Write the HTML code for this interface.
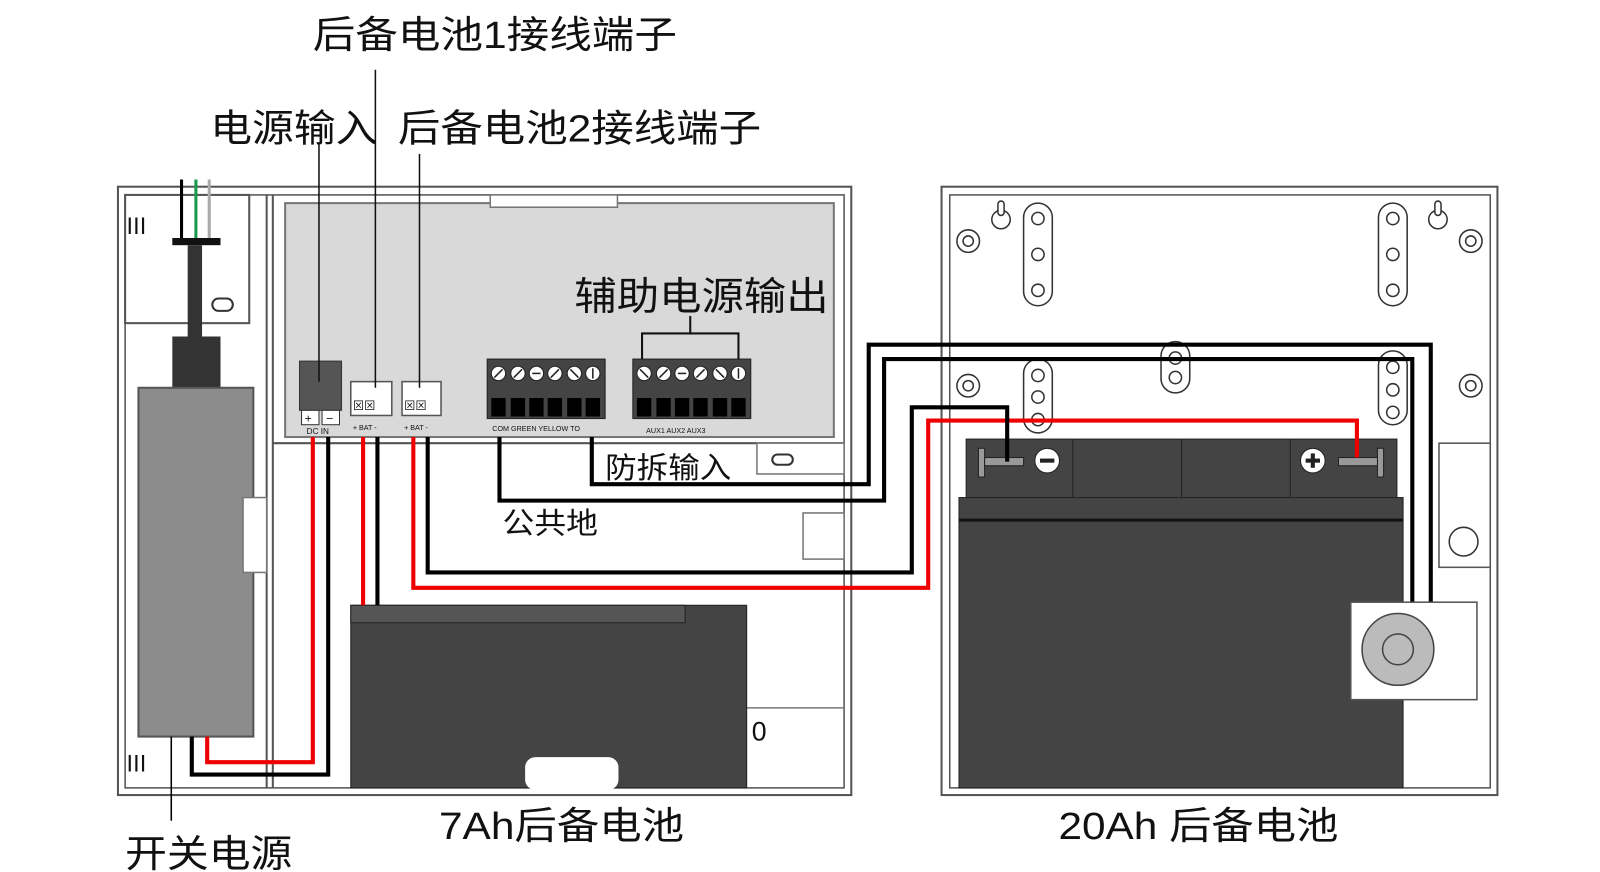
<!DOCTYPE html>
<html><head><meta charset="utf-8"><style>
html,body{margin:0;padding:0;background:#fff;width:1600px;height:872px;overflow:hidden}
svg{display:block}
text{font-family:"Liberation Sans","Noto Sans CJK SC",sans-serif;fill:#111}
</style></head><body>
<svg width="1600" height="872" viewBox="0 0 1560 850" preserveAspectRatio="none" xmlns="http://www.w3.org/2000/svg">
<g fill="none" stroke="#555" stroke-width="2">
<rect x="115" y="182" width="715" height="593"/>
<rect x="122" y="190" width="701" height="578" stroke-width="1.5"/>
<line x1="260" y1="190" x2="260" y2="768"/><line x1="266" y1="190" x2="266" y2="768"/>
<line x1="266" y1="432" x2="823" y2="432"/>
<rect x="122" y="190" width="121" height="125"/>
</g>
<rect x="278" y="198" width="535" height="228" fill="#d9d9d9" stroke="#777" stroke-width="2"/>
<rect x="478" y="190" width="124" height="12" fill="#fff" stroke="#777" stroke-width="1.5"/>
<text x="122" y="228" font-size="22" fill="#666">Ⅲ</text>
<text x="122" y="752" font-size="22" fill="#666">Ⅲ</text>
<rect x="207" y="291" width="20" height="12" rx="6" fill="#fff" stroke="#333" stroke-width="2"/>
<line x1="177" y1="175" x2="177" y2="232" stroke="#000" stroke-width="3"/>
<line x1="191" y1="175" x2="191" y2="232" stroke="#1a9a4a" stroke-width="3"/>
<line x1="204" y1="175" x2="204" y2="232" stroke="#aaa" stroke-width="3"/>
<rect x="168" y="232" width="47" height="7" fill="#111"/>
<rect x="183" y="239" width="14" height="90" fill="#333"/>
<rect x="168" y="328" width="47" height="50" fill="#333"/>
<rect x="135" y="378" width="112" height="340" fill="#8c8c8c" stroke="#555" stroke-width="2"/>
<rect x="237" y="485" width="23" height="73" fill="#fff" stroke="#777" stroke-width="1.5"/>
<polyline points="305,426 305,743 202,743 202,718" fill="none" stroke="#e00" stroke-width="4"/>
<polyline points="320,426 320,755 187,755 187,718" fill="none" stroke="#000" stroke-width="4"/>
<line x1="167" y1="718" x2="167" y2="800" stroke="#000" stroke-width="1.5"/>
<rect x="292" y="352" width="41" height="48" fill="#555" stroke="#333"/>
<rect x="294" y="400" width="17" height="14" fill="#fff" stroke="#333"/><rect x="314" y="400" width="17" height="14" fill="#fff" stroke="#333"/>
<text x="297" y="412" font-size="12">+</text><text x="318" y="412" font-size="12">−</text>
<text x="299" y="423" font-size="8">DC IN</text>
<rect x="342" y="372" width="40" height="33" fill="#fff" stroke="#555" stroke-width="1.5"/>
<rect x="392" y="372" width="38" height="33" fill="#fff" stroke="#555" stroke-width="1.5"/>
<text x="344" y="399" font-size="11">⊠⊠</text><text x="394" y="399" font-size="11">⊠⊠</text>
<text x="344" y="419" font-size="7">+ BAT -</text><text x="394" y="419" font-size="7">+ BAT -</text>
<g>
<rect x="475" y="350" width="115" height="58" fill="#444" stroke="#222"/>
<rect x="617" y="350" width="115" height="58" fill="#444" stroke="#222"/>
<g fill="#fff" stroke="#222">
<circle cx="486" cy="364" r="7"/><circle cx="505" cy="364" r="7"/><circle cx="523" cy="364" r="7"/><circle cx="541" cy="364" r="7"/><circle cx="560" cy="364" r="7"/><circle cx="578" cy="364" r="7"/>
<circle cx="628" cy="364" r="7"/><circle cx="647" cy="364" r="7"/><circle cx="665" cy="364" r="7"/><circle cx="683" cy="364" r="7"/><circle cx="702" cy="364" r="7"/><circle cx="720" cy="364" r="7"/>
</g>
<g stroke="#222" stroke-width="1.5">
<line x1="482" y1="368" x2="490" y2="360"/><line x1="501" y1="368" x2="509" y2="360"/><line x1="519" y1="364" x2="527" y2="364"/><line x1="537" y1="368" x2="545" y2="360"/><line x1="556" y1="360" x2="564" y2="368"/><line x1="578" y1="359" x2="578" y2="369"/>
<line x1="624" y1="360" x2="632" y2="368"/><line x1="643" y1="368" x2="651" y2="360"/><line x1="661" y1="364" x2="669" y2="364"/><line x1="679" y1="368" x2="687" y2="360"/><line x1="698" y1="360" x2="706" y2="368"/><line x1="720" y1="359" x2="720" y2="369"/>
</g>
<g fill="#000">
<rect x="479" y="388" width="14" height="18"/><rect x="498" y="388" width="14" height="18"/><rect x="516" y="388" width="14" height="18"/><rect x="534" y="388" width="14" height="18"/><rect x="553" y="388" width="14" height="18"/><rect x="571" y="388" width="14" height="18"/>
<rect x="621" y="388" width="14" height="18"/><rect x="640" y="388" width="14" height="18"/><rect x="658" y="388" width="14" height="18"/><rect x="676" y="388" width="14" height="18"/><rect x="695" y="388" width="14" height="18"/><rect x="713" y="388" width="14" height="18"/>
</g>
<text x="480" y="420" font-size="7">COM  GREEN  YELLOW  TO</text>
<text x="630" y="422" font-size="7">AUX1   AUX2   AUX3</text>
</g>
<polyline points="626,350 626,325 720,325 720,350" fill="none" stroke="#111" stroke-width="2"/>
<line x1="673" y1="308" x2="673" y2="325" stroke="#111" stroke-width="2"/>
<line x1="311" y1="140" x2="311" y2="372" stroke="#111" stroke-width="1.5"/>
<line x1="366" y1="68" x2="366" y2="378" stroke="#111" stroke-width="1.5"/>
<line x1="409" y1="150" x2="409" y2="378" stroke="#111" stroke-width="1.5"/>
<rect x="738" y="432" width="85" height="30" fill="#fff" stroke="#777" stroke-width="1.5"/>
<rect x="753" y="443" width="20" height="10" rx="5" fill="#fff" stroke="#333" stroke-width="2"/>
<rect x="783" y="500" width="40" height="45" fill="#fff" stroke="#777" stroke-width="1.5"/>
<line x1="728" y1="690" x2="823" y2="690" stroke="#777" stroke-width="1.5"/>
<text x="733" y="722" font-size="26">0</text>
<rect x="342" y="590" width="386" height="178" fill="#444" stroke="#222"/>
<rect x="342" y="590" width="326" height="17" fill="#555" stroke="#222"/>
<rect x="512" y="738" width="91" height="32" rx="10" fill="#fff"/>
<g fill="none" stroke="#555" stroke-width="2">
<rect x="918" y="182" width="542" height="593"/>
<rect x="926" y="190" width="527" height="578" stroke-width="1.5"/>
</g>
<g fill="#fff" stroke="#333" stroke-width="1.5">
<rect x="998" y="198" width="28" height="100" rx="14"/><rect x="1344" y="198" width="28" height="100" rx="14"/>
<rect x="998" y="350" width="28" height="72" rx="14"/><rect x="1132" y="333" width="28" height="50" rx="14"/><rect x="1344" y="342" width="28" height="72" rx="14"/>
<circle cx="1012" cy="213" r="6"/><circle cx="1012" cy="248" r="6"/><circle cx="1012" cy="283" r="6"/>
<circle cx="1358" cy="213" r="6"/><circle cx="1358" cy="248" r="6"/><circle cx="1358" cy="283" r="6"/>
<circle cx="1012" cy="366" r="6"/><circle cx="1012" cy="387" r="6"/><circle cx="1012" cy="409" r="6"/>
<circle cx="1146" cy="349" r="6"/><circle cx="1146" cy="368" r="6"/>
<circle cx="1358" cy="358" r="6"/><circle cx="1358" cy="380" r="6"/><circle cx="1358" cy="402" r="6"/>
<circle cx="944" cy="235" r="11"/><circle cx="944" cy="235" r="5"/><circle cx="1434" cy="235" r="11"/><circle cx="1434" cy="235" r="5"/>
<circle cx="944" cy="376" r="11"/><circle cx="944" cy="376" r="5"/><circle cx="1434" cy="376" r="11"/><circle cx="1434" cy="376" r="5"/>
<circle cx="976" cy="214" r="9"/><rect x="973" y="196" width="6" height="14" rx="3"/>
<circle cx="1402" cy="214" r="9"/><rect x="1399" y="196" width="6" height="14" rx="3"/>
</g>
<rect x="1403" y="432" width="50" height="121" fill="#fff" stroke="#555" stroke-width="1.5"/>
<circle cx="1427" cy="528" r="14" fill="#fff" stroke="#333" stroke-width="1.5"/>
<rect x="942" y="428" width="420" height="57" fill="#444" stroke="#222"/>
<line x1="1046" y1="428" x2="1046" y2="485" stroke="#222"/><line x1="1152" y1="428" x2="1152" y2="485" stroke="#222"/><line x1="1258" y1="428" x2="1258" y2="485" stroke="#222"/>
<rect x="935" y="485" width="433" height="283" fill="#444" stroke="#222"/>
<line x1="935" y1="507" x2="1368" y2="507" stroke="#111" stroke-width="3"/>
<rect x="954" y="437" width="6" height="28" fill="#999" stroke="#222"/><rect x="960" y="446" width="38" height="8" fill="#999" stroke="#222"/>
<circle cx="1021" cy="449" r="12" fill="#fff" stroke="#222"/><rect x="1014" y="447" width="14" height="4" fill="#222"/>
<rect x="1343" y="437" width="6" height="28" fill="#999" stroke="#222"/><rect x="1305" y="446" width="38" height="8" fill="#999" stroke="#222"/>
<circle cx="1280" cy="449" r="12" fill="#fff" stroke="#222"/><rect x="1273" y="447" width="14" height="4" fill="#222"/><rect x="1278" y="442" width="4" height="14" fill="#222"/>
<g fill="none" stroke-width="4">
<line x1="354" y1="426" x2="354" y2="590" stroke="#e00"/>
<line x1="368" y1="426" x2="368" y2="590" stroke="#000"/>
<polyline points="403,426 403,573 905,573 905,410 1323,410 1323,446" stroke="#e00"/>
<polyline points="417,426 417,558 889,558 889,397 982,397 982,450" stroke="#000"/>
<polyline points="487,426 487,488 862,488 862,350 1377,350 1377,587" stroke="#000"/>
<polyline points="577,426 577,472 847,472 847,336 1395,336 1395,587" stroke="#000"/>
</g>
<rect x="1317" y="587" width="123" height="95" fill="#fff" stroke="#555" stroke-width="1.5"/>
<circle cx="1363" cy="633" r="35" fill="#bbb" stroke="#444" stroke-width="1.5"/>
<circle cx="1363" cy="633" r="15" fill="#bbb" stroke="#444" stroke-width="1.5"/>
<text x="305" y="47" font-size="37" textLength="355" lengthAdjust="spacingAndGlyphs">后备电池1接线端子</text>
<text x="205" y="138" font-size="37" textLength="163" lengthAdjust="spacingAndGlyphs">电源输入</text>
<text x="388" y="138" font-size="37" textLength="354" lengthAdjust="spacingAndGlyphs">后备电池2接线端子</text>
<text x="560" y="302" font-size="38" textLength="248" lengthAdjust="spacingAndGlyphs">辅助电源输出</text>
<text x="590" y="466" font-size="29" textLength="123" lengthAdjust="spacingAndGlyphs">防拆输入</text>
<text x="490" y="520" font-size="29" textLength="93" lengthAdjust="spacingAndGlyphs">公共地</text>
<text x="428" y="818" font-size="37" textLength="239" lengthAdjust="spacingAndGlyphs">7Ah后备电池</text>
<text x="1032" y="818" font-size="37" textLength="273" lengthAdjust="spacingAndGlyphs">20Ah 后备电池</text>
<text x="122" y="845" font-size="37" textLength="163" lengthAdjust="spacingAndGlyphs">开关电源</text>
</svg>
</body></html>
